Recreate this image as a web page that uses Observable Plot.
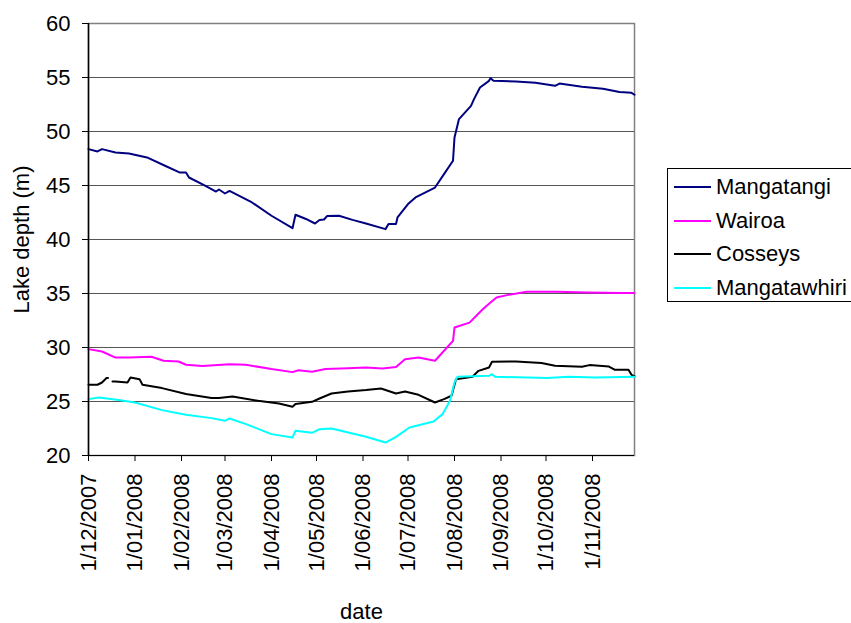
<!DOCTYPE html>
<html><head><meta charset="utf-8">
<script src="https://cdn.jsdelivr.net/npm/d3@7"></script>
<script src="https://cdn.jsdelivr.net/npm/@observablehq/plot@0.6"></script>
<style>
body{margin:0;background:#fff;font-family:Arial,"Liberation Sans",sans-serif;}
#wrap{position:relative;width:851px;height:623px;overflow:hidden;}
#legend{position:absolute;left:667px;top:168px;width:200px;height:134px;border:1px solid #000;box-sizing:border-box;background:#fff;}
.item{position:absolute;left:0;height:30px;display:flex;align-items:center;font-size:22px;color:#000;}
.sw{width:37px;height:2px;margin-left:6px;margin-right:5px;}
</style></head><body><div id="wrap"></div>
<script>
const seriesNames = ["Mangatangi","Wairoa","Cosseys","Mangatawhiri"];
const seriesColors = ["#000080","#ff00ff","#000000","#00ffff"];

const mangatangiDates = ["2007-12-01","2007-12-07","2007-12-10","2007-12-19","2007-12-28","2008-01-09","2008-01-21","2008-01-31","2008-02-04","2008-02-06","2008-02-17","2008-02-24","2008-02-26","2008-03-01","2008-03-04","2008-03-19","2008-04-01","2008-04-15","2008-04-17","2008-04-24","2008-04-30","2008-05-03","2008-05-06","2008-05-08","2008-05-16","2008-05-25","2008-06-03","2008-06-16","2008-06-18","2008-06-23","2008-06-24","2008-07-01","2008-07-06","2008-07-19","2008-07-25","2008-07-31","2008-08-01","2008-08-04","2008-08-12","2008-08-14","2008-08-18","2008-08-24","2008-08-25","2008-08-27","2008-09-11","2008-09-24","2008-10-07","2008-10-10","2008-10-25","2008-11-08","2008-11-19","2008-11-27","2008-11-29"];
const mangatangiValues = [48.37,48.15,48.37,48.06,47.97,47.6,46.83,46.2,46.2,45.74,44.97,44.44,44.63,44.26,44.5,43.43,42.2,41.05,42.29,41.9,41.48,41.8,41.85,42.17,42.2,41.82,41.48,40.96,41.43,41.43,42.04,43.28,43.9,44.81,46.05,47.29,49.44,51.15,52.38,53.0,54.07,54.69,54.94,54.69,54.63,54.51,54.23,54.44,54.14,53.95,53.65,53.58,53.4];

const wairoaDates = ["2007-12-01","2007-12-10","2007-12-19","2007-12-28","2008-01-12","2008-01-20","2008-01-30","2008-02-04","2008-02-15","2008-03-04","2008-03-15","2008-04-01","2008-04-15","2008-04-19","2008-04-28","2008-05-07","2008-05-22","2008-06-03","2008-06-14","2008-06-23","2008-06-29","2008-07-08","2008-07-19","2008-07-27","2008-07-31","2008-08-01","2008-08-11","2008-08-20","2008-08-25","2008-08-29","2008-09-05","2008-09-18","2008-10-08","2008-10-28","2008-11-20","2008-11-29"];
const wairoaValues = [29.85,29.63,29.07,29.07,29.14,28.77,28.7,28.4,28.28,28.46,28.4,28.0,27.72,27.9,27.75,28.0,28.09,28.15,28.06,28.2,28.92,29.07,28.77,30.0,30.62,31.85,32.3,33.56,34.17,34.63,34.85,35.16,35.16,35.1,35.04,35.04];

const cosseysDates = ["2007-12-01","2007-12-07","2007-12-10","2007-12-13","2007-12-14","2007-12-15","2007-12-17","2007-12-19","2007-12-27","2007-12-29","2008-01-04","2008-01-06","2008-01-19","2008-02-04","2008-02-21","2008-02-26","2008-03-06","2008-03-23","2008-04-06","2008-04-15","2008-04-17","2008-04-28","2008-05-03","2008-05-11","2008-05-22","2008-06-03","2008-06-13","2008-06-23","2008-06-29","2008-07-08","2008-07-19","2008-07-25","2008-07-30","2008-08-02","2008-08-13","2008-08-17","2008-08-24","2008-08-26","2008-09-11","2008-09-28","2008-10-07","2008-10-25","2008-10-30","2008-11-12","2008-11-16","2008-11-25","2008-11-27","2008-11-29"];
const cosseysValues = [26.55,26.55,26.76,27.17,27.17,null,26.85,26.85,26.76,27.22,27.07,26.55,26.24,25.69,25.32,25.32,25.46,25.06,24.81,24.51,24.76,24.97,25.28,25.74,25.93,26.06,26.2,25.74,25.93,25.62,24.91,25.22,25.53,27.07,27.29,27.84,28.15,28.68,28.7,28.56,28.31,28.21,28.37,28.24,27.93,27.93,27.47,27.35];

const mangatawhiriDates = ["2007-12-01","2007-12-08","2007-12-21","2008-01-01","2008-01-19","2008-02-04","2008-02-21","2008-03-01","2008-03-04","2008-03-15","2008-04-01","2008-04-15","2008-04-17","2008-04-28","2008-05-03","2008-05-11","2008-06-03","2008-06-16","2008-06-23","2008-07-02","2008-07-18","2008-07-24","2008-07-29","2008-08-01","2008-08-03","2008-08-24","2008-08-26","2008-08-28","2008-10-02","2008-10-16","2008-11-03","2008-11-29"];
const mangatawhiriValues = [25.22,25.37,25.13,24.91,24.2,23.77,23.46,23.21,23.43,22.91,21.98,21.67,22.29,22.1,22.44,22.5,21.73,21.2,21.73,22.59,23.15,23.83,25.06,26.76,27.29,27.38,27.53,27.29,27.17,27.29,27.22,27.29];

const xTickDates = ["2007-12-01","2008-01-01","2008-02-01","2008-03-01","2008-04-01","2008-05-01","2008-06-01","2008-07-01","2008-08-01","2008-09-01","2008-10-01","2008-11-01"];
const yTicks = [20,25,30,35,40,45,50,55,60];
const xDomain = ["2007-12-01","2008-11-29"];

const parse = d3.utcParse("%Y-%m-%d");
const rows = [];
function add(name, dates, vals){ dates.forEach((d,i)=>rows.push({series:name, date:parse(d), depth:vals[i]})); }
add("Mangatangi", mangatangiDates, mangatangiValues);
add("Wairoa", wairoaDates, wairoaValues);
add("Cosseys", cosseysDates, cosseysValues);
add("Mangatawhiri", mangatawhiriDates, mangatawhiriValues);

const fmt = d => `${d.getUTCDate()}/${String(d.getUTCMonth()+1).padStart(2,"0")}/${d.getUTCFullYear()}`;
const FONT = "Arial, 'Liberation Sans', sans-serif";

const chart = Plot.plot({
  width: 851, height: 623,
  marginLeft: 88, marginRight: 217, marginTop: 23, marginBottom: 168,
  style: {fontFamily: FONT, fontSize: "22px", color: "#000", background: "#fff"},
  x: {type: "utc", domain: xDomain.map(parse)},
  y: {domain: [20, 60]},
  color: {domain: seriesNames, range: seriesColors},
  marks: [
    Plot.gridY(yTicks, {stroke: "#555", strokeOpacity: 1, strokeWidth: 1.2}),
    Plot.frame({stroke: "#808080", strokeWidth: 1.5}),
    Plot.line(rows, {x: "date", y: "depth", z: "series", stroke: "series", strokeWidth: 2}),
    Plot.ruleX([parse(xDomain[0])], {stroke: "#000", strokeWidth: 1.5}),
    Plot.ruleY([20], {stroke: "#000", strokeWidth: 1.2}),
    Plot.axisY(yTicks, {tickSize: 6, tickPadding: 12, label: null, fontSize: 22, stroke: "#000"}),
    Plot.axisX(xTickDates.map(parse), {tickFormat: fmt, tickRotate: -90, tickSize: 6, tickPadding: 12, label: null, fontSize: 22, stroke: "#000"}),
    Plot.text(["Lake depth (m)"], {frameAnchor: "left", textAnchor: "middle", dx: -67, rotate: -90, fontSize: 22, fill: "#000"}),
    Plot.text(["date"], {frameAnchor: "bottom", dy: 163, fontSize: 22, fill: "#000"})
  ]
});
const wrap = document.getElementById("wrap");
wrap.appendChild(chart);
const legend = document.createElement("div");
legend.id = "legend";
seriesNames.forEach((n,i)=>{
  const it = document.createElement("div");
  it.className = "item";
  it.style.top = (3 + i*33.5) + "px";
  const sw = document.createElement("span");
  sw.className = "sw"; sw.style.background = seriesColors[i];
  const t = document.createElement("span"); t.textContent = n;
  it.appendChild(sw); it.appendChild(t);
  legend.appendChild(it);
});
wrap.appendChild(legend);
</script></body></html>
